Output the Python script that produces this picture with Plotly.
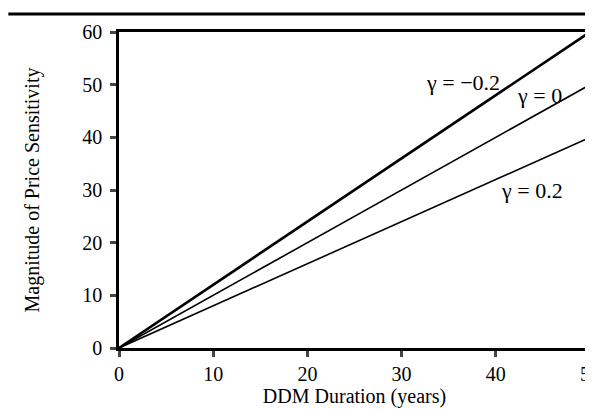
import plotly.graph_objects as go

duration = [0, 50]
sens_neg = [0, 60]   # gamma = -0.2
sens_zero = [0, 50]  # gamma = 0
sens_pos = [0, 40]   # gamma = 0.2
x_ticks = [0, 10, 20, 30, 40, 50]
y_ticks = [0, 10, 20, 30, 40, 50, 60]
labels = ["γ = −0.2", "γ = 0", "γ = 0.2"]
label_x = [36.5, 44.6, 43.8]
label_y = [50.5, 48.0, 30.0]

FONT = "Liberation Serif"
fig = go.Figure()
for ys, w in [(sens_neg, 2.6), (sens_zero, 1.6), (sens_pos, 1.6)]:
    fig.add_trace(go.Scatter(x=duration, y=ys, mode="lines",
                             line=dict(color="black", width=w), showlegend=False))

for t, ax, ay in zip(labels, label_x, label_y):
    fig.add_annotation(x=ax, y=ay, text=t, showarrow=False,
                       font=dict(family=FONT, size=22, color="black"))

fig.add_shape(type="line", xref="paper", yref="paper", x0=-0.235, x1=1.01,
              y0=1.057, y1=1.057, line=dict(color="black", width=3))

# page body has an 8px margin, so the figure is sized to fit the window
fig.update_layout(
    width=585, height=401,
    margin=dict(l=111, r=3, t=24, b=61, autoexpand=False),
    plot_bgcolor="white", paper_bgcolor="white",
    font=dict(family=FONT, size=20, color="black"),
)
fig.update_xaxes(range=[0, 50], tickvals=x_ticks, ticks="outside", ticklen=6, tickwidth=3,
                 showline=True, linewidth=2.5, linecolor="black", mirror=True,
                 showgrid=False, zeroline=False, automargin=False,
                 ticklabeloverflow="allow",
                 title=dict(text="DDM Duration (years)", standoff=4, font=dict(size=20)),
                 tickfont=dict(size=20))
fig.update_yaxes(range=[0, 60], tickvals=y_ticks, ticks="outside", ticklen=6, tickwidth=3,
                 showline=True, linewidth=2.5, linecolor="black", mirror=True,
                 showgrid=False, zeroline=False, automargin=False,
                 ticklabeloverflow="allow", ticklabelstandoff=4,
                 title=dict(text="Magnitude of Price Sensitivity", standoff=38, font=dict(size=20)),
                 tickfont=dict(size=20))
fig.write_html("out.html")
